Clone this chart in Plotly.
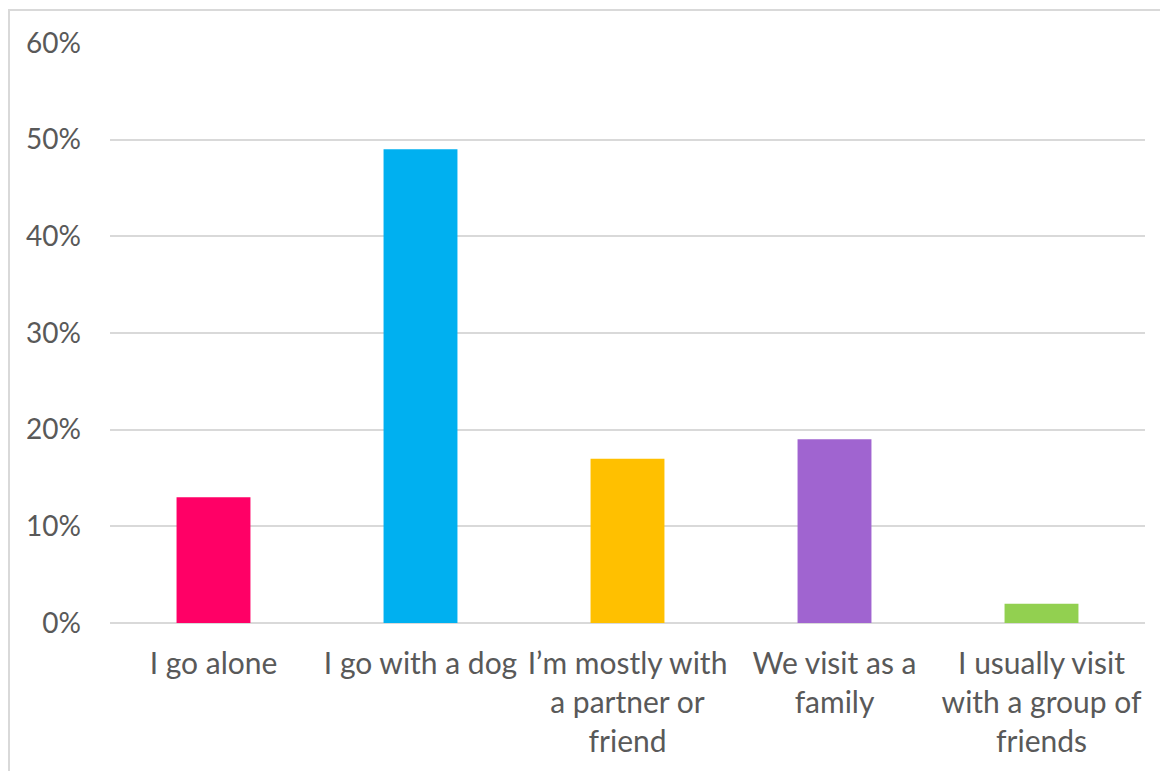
import plotly.graph_objects as go

categories = ["I go alone", "I go with a dog", "I\u2019m mostly with<br>a partner or<br>friend",
              "We visit as a<br>family", "I usually visit<br>with a group of<br>friends"]
values = [13, 49, 17, 19, 2]
colors = ["#FF0066", "#00B0F0", "#FFC000", "#A064D0", "#92D050"]
y_ticks = [0, 10, 20, 30, 40, 50, 60]
y_labels = [f"{v}%" for v in y_ticks]

OFF = 8  # page body margin
W, H = 1168 - OFF, 771 - OFF
ml, mr, mt, mb = 110 - OFF, 23, 43 - OFF, 148
pw, ph = W - ml - mr, H - mt - mb

fig = go.Figure(go.Bar(x=categories, y=values, marker_color=colors, width=0.357,
                       marker_line_width=0))

def px_x(p):
    return (p - OFF - ml) / pw

def px_y(p):
    return (H - mb - (p - OFF)) / ph

fig.update_layout(
    width=W, height=H,
    margin=dict(l=ml, r=mr, t=mt, b=mb, autoexpand=False),
    paper_bgcolor="white", plot_bgcolor="white",
    showlegend=False,
    font=dict(family="Lato, Carlito, sans-serif", size=28, color="#595959"),
    xaxis=dict(showgrid=False, showline=False, ticks="", tickangle=0, automargin=False,
               ticklabelstandoff=20, tickfont=dict(size=30, color="#595959")),
    yaxis=dict(range=[0, 60], tickvals=y_ticks, ticktext=y_labels, showgrid=True,
               automargin=False,
               gridcolor="#D9D9D9", gridwidth=1.5, zeroline=True, zerolinecolor="#D9D9D9",
               zerolinewidth=1.5, showline=False, ticks="", ticklabelstandoff=28,
               tickfont=dict(size=28, color="#595959")),
    shapes=[dict(type="rect", xref="paper", yref="paper",
                 x0=px_x(9), x1=px_x(1190), y0=px_y(800), y1=px_y(10),
                 line=dict(color="#D9D9D9", width=2), fillcolor="rgba(0,0,0,0)", layer="below")],
)

fig.write_html("out.html")
